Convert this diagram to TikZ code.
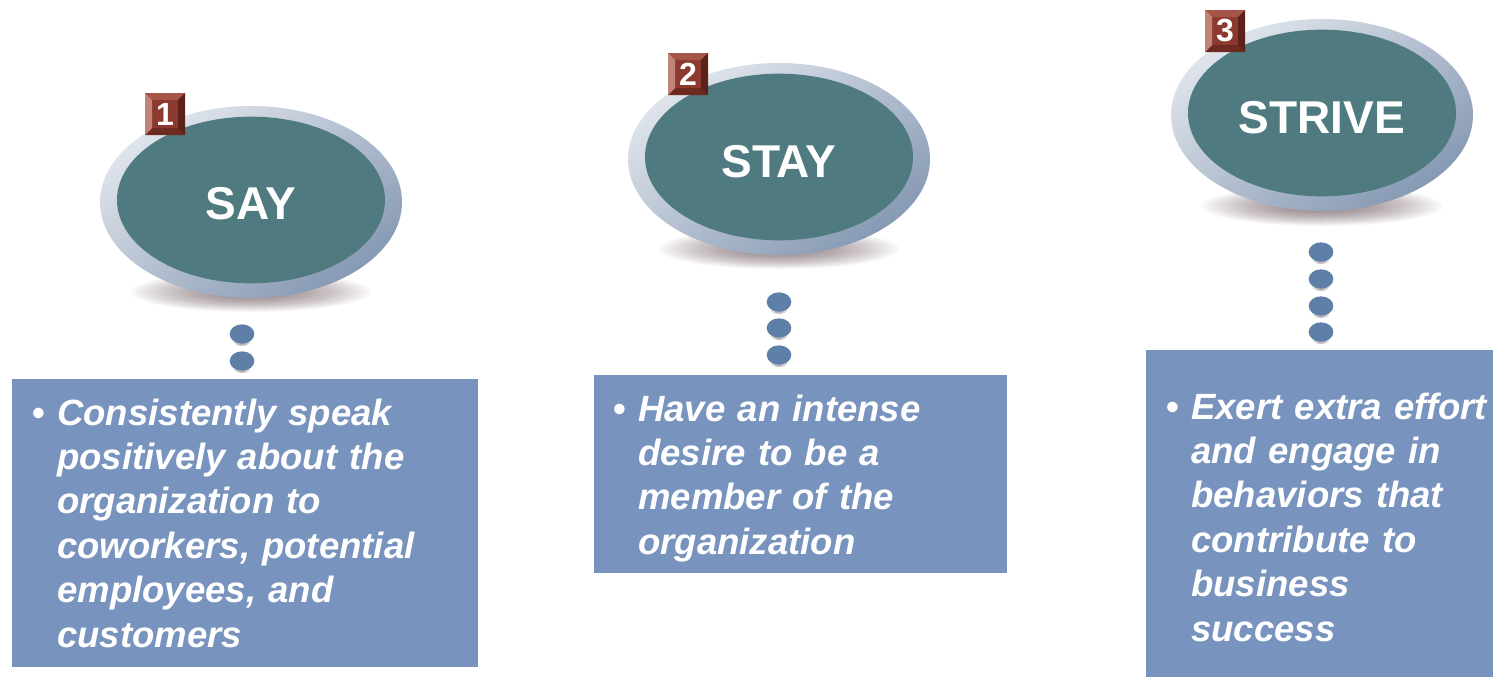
\documentclass[tikz,border=0pt]{standalone}
\usepackage{fontspec}
\setmainfont{Liberation Sans}
\usetikzlibrary{shapes.geometric}
\definecolor{teal1}{HTML}{4F7B80}
\definecolor{ringlight}{HTML}{E0E5EC}
\definecolor{ringdark}{HTML}{8699B3}
\definecolor{boxblue}{HTML}{7894BE}
\definecolor{dotblue}{HTML}{5D7FA8}
\definecolor{bface}{HTML}{8C3A2F}
\definecolor{bleft}{HTML}{C28478}
\definecolor{btop}{HTML}{A65549}
\definecolor{bright}{HTML}{5C2118}
\definecolor{bbottom}{HTML}{6E2A20}
\definecolor{shadowc}{HTML}{4A3036}
\tikzset{
  ring/.style={ellipse, minimum width=226.5pt, minimum height=144pt, inner sep=0pt,
    top color=ringlight, bottom color=ringdark, shading angle=35},
  core/.style={ellipse, minimum width=201pt, minimum height=125pt, inner sep=0pt, fill=teal1},
  title/.style={text=white, inner sep=0pt, font=\bfseries\fontsize{34.5}{40}\selectfont},
  softshadow/.style={fill=shadowc, opacity=0.035},
  dot/.style={ellipse, minimum width=18.5pt, minimum height=14.5pt, inner sep=0pt, fill=dotblue},
  dotshadow/.style={fill=shadowc, opacity=0.2},
  bluebox/.style={rectangle, anchor=north west, inner sep=0pt, fill=boxblue},
  bullettext/.style={anchor=base west, inner sep=0pt, text width=400pt, align=left,
    text=white, font=\bfseries\itshape\fontsize{27.4}{33.3}\selectfont},
  badge/.style={rectangle, minimum width=30pt, minimum height=31.5pt, inner sep=0pt,
    fill=bface, text=white, font=\bfseries\fontsize{24}{24}\selectfont,
    path picture={
      \coordinate (NW) at (path picture bounding box.north west);
      \coordinate (NE) at (path picture bounding box.north east);
      \coordinate (SW) at (path picture bounding box.south west);
      \coordinate (SE) at (path picture bounding box.south east);
      \fill[btop] (NW) -- (NE) -- ([shift={(-5.25pt,-5.25pt)}]NE) -- ([shift={(5.25pt,-5.25pt)}]NW) -- cycle;
      \fill[bbottom] (SW) -- (SE) -- ([shift={(-5.25pt,5.25pt)}]SE) -- ([shift={(5.25pt,5.25pt)}]SW) -- cycle;
      \fill[bleft] (NW) -- ([shift={(5.25pt,-5.25pt)}]NW) -- ([shift={(5.25pt,5.25pt)}]SW) -- (SW) -- cycle;
      \fill[bright] (NE) -- ([shift={(-5.25pt,-5.25pt)}]NE) -- ([shift={(-5.25pt,5.25pt)}]SE) -- (SE) -- cycle;
    }},
}
\newcommand{\bul}{\llap{\upshape\textbullet\hspace{9.3pt}}}
\begin{document}
\begin{tikzpicture}[x=0.75pt, y=-0.75pt]
\useasboundingbox (0,0) rectangle (1493,676);

% ---------- soft shadows under the ellipses ----------
\foreach \cx/\cy in {251/292, 779/249, 1322/206} {
  \foreach \k in {0,...,19} {
    \fill[softshadow] (\cx,\cy) ellipse [x radius={(120-4.5*\k)*0.75pt}, y radius={(20-0.75*\k)*0.75pt}];
  }
}

% ---------- ellipses ----------
\node[ring] (r1) at (251,202) {};
\node[core] (c1) at (251,200) {};
\node[title] (say) at (251,204) {SAY};

\node[ring] (r2) at (779,159) {};
\node[core] (c2) at (779,157) {};
\node[title] (stay) at (779,162) {STAY};

\node[ring] (r3) at (1322,115) {};
\node[core] (c3) at (1322,113) {};
\node[title] (strive) at (1322,118) {STRIVE};

% ---------- badges ----------
\node[badge] (b1) at (165,114) {1};
\node[badge] (b2) at (688,74) {2};
\node[badge] (b3) at (1225,31) {3};

% ---------- dots ----------
\foreach \x/\y in {242/334, 242/361, 779/302, 779/328, 779/355,
                   1321/252, 1321/279, 1321/306, 1321/332} {
  \fill[dotshadow] (\x,\y+8) ellipse [x radius=6pt, y radius=3pt];
  \fill[dotshadow] (\x,\y+9) ellipse [x radius=3.5pt, y radius=2pt];
}
\foreach \n/\x/\y in {a/242/334, b/242/361,
                       c/779/302, d/779/328, e/779/355,
                       f/1321/252, g/1321/279, h/1321/306, i/1321/332} {
  \node[dot] (d\n) at (\x,\y) {};
}

% ---------- boxes ----------
\node[bluebox, minimum width=349.5pt, minimum height=216pt] (box1) at (12,379) {};
\node[bluebox, minimum width=309.75pt, minimum height=148.5pt] (box2) at (594,375) {};
\node[bluebox, minimum width=270pt, minimum height=252pt] (box3) at (1146,350) {};

\node[bullettext] (t1) at (57,425) {\bul Consistently speak\\ positively about the\\ organization to\\ coworkers, potential\\ employees, and\\ customers};
\node[bullettext] (t2) at (638,421) {\bul Have an intense\\ desire to be a\\ member of the\\ organization};
\node[bullettext] (t3) at (1191,419) {\bul Exert extra effort\\ and engage in\\ behaviors that\\ contribute to\\ business\\ success};
\end{tikzpicture}
\end{document}
